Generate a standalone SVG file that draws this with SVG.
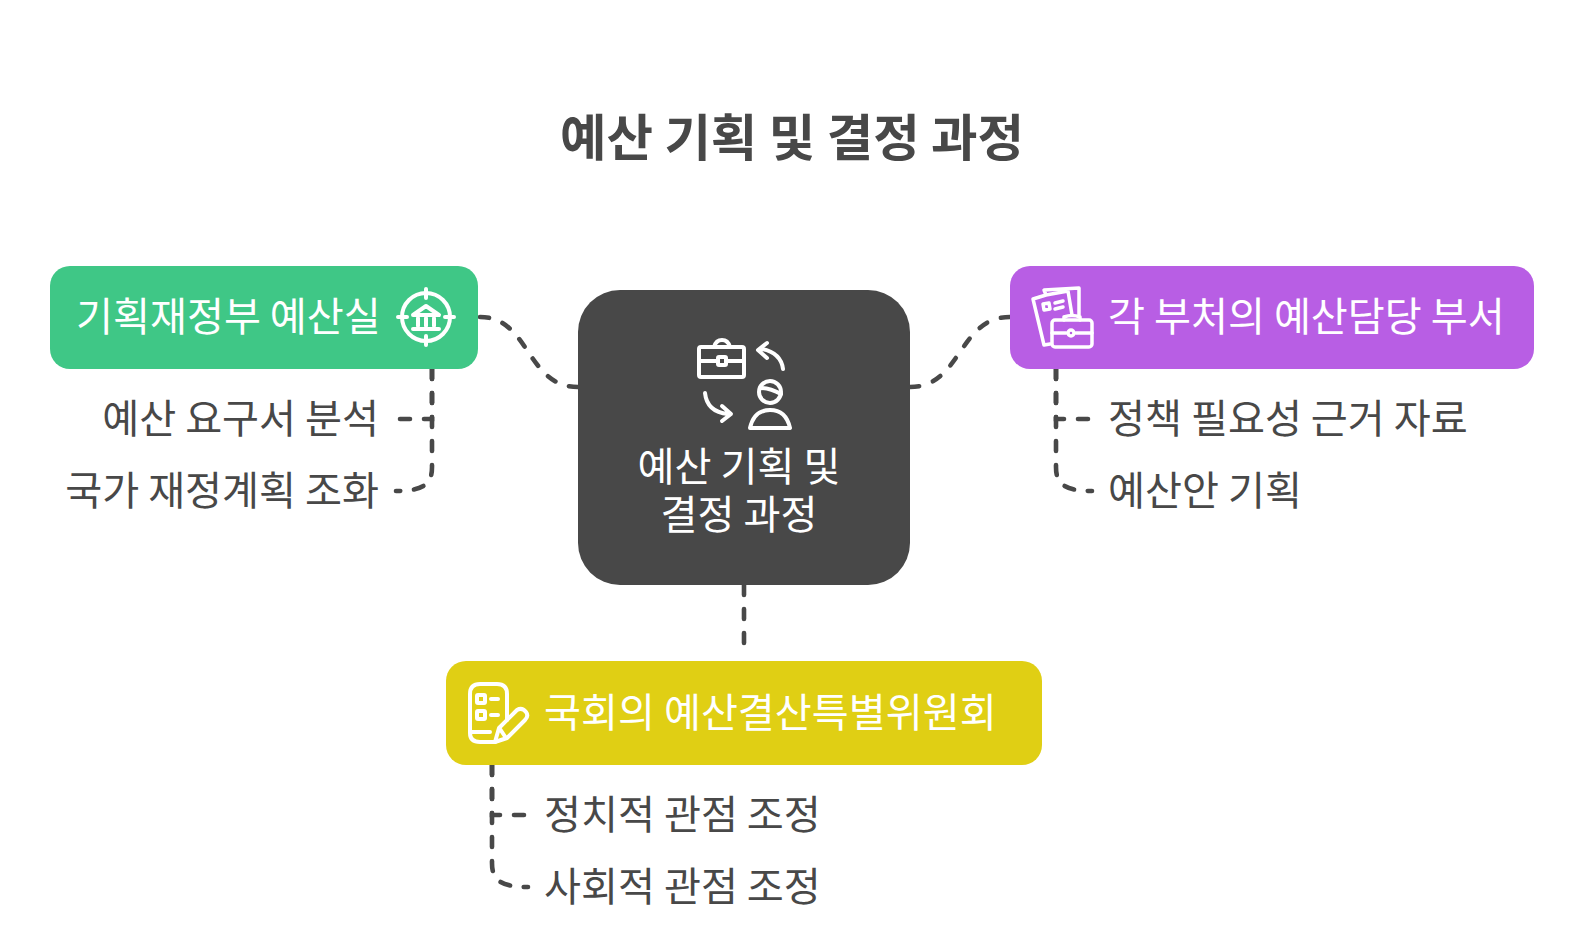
<svg xmlns="http://www.w3.org/2000/svg" width="1584" height="941" viewBox="0 0 1584 941">
<style>
text{font-family:"Noto Sans CJK KR","Noto Sans",sans-serif;font-size:40.2px}
.w{fill:#fff}.d{fill:#484848}
.t{font-size:50.5px;font-weight:700;fill:#484848;text-anchor:middle}
.e{text-anchor:end}.m{text-anchor:middle}
.c{fill:none;stroke:#484848;stroke-width:4.6;stroke-linecap:round;stroke-dasharray:10 14}
.i{fill:none;stroke:#fff;stroke-width:4;stroke-linecap:round;stroke-linejoin:round}
</style>
<rect width="1584" height="941" fill="#fff"/>
<text class="t" x="792" y="156">예산 기획 및 결정 과정</text>
<g id="connectors">
<path class="c" style="stroke-dasharray:10 16" pathLength="140" d="M480 317C530 317 526 387 578 387"/>
<path class="c" style="stroke-dasharray:10 16" pathLength="140" d="M1010 317C958 317 962 387 910 387"/>
<path class="c" d="M744 585V647"/>
<path class="c" d="M432 369V419H398"/>
<path class="c" d="M432 369V467C432 483 425 491 396 491"/>
<path class="c" d="M1056 369V419H1090"/>
<path class="c" d="M1056 369V467C1056 483 1063 491 1092 491"/>
<path class="c" d="M492 765V815H526"/>
<path class="c" d="M492 765V863C492 879 499 887 528 887"/>
</g>
<g id="node-center">
<rect x="578" y="290" width="332" height="295" rx="42" fill="#484848"/>
<g class="i">
<rect x="699" y="347" width="45" height="30" rx="2"/><path d="M699 361H717M727 361H744M714 347Q716 340 722 340Q728 340 730 347"/><rect x="718" y="357" width="8" height="8" rx="1"/>
<path d="M783 369Q781 353 762 349M767 343L758 350L767 358"/><path d="M705 393Q707 412 728 414M722 406L731 414L722 421"/>
<circle cx="770" cy="392" r="11"/><path d="M760 388Q770 388 781 394M750 428Q754 410 770 410Q786 410 790 428Z"/>
</g>
<text class="w m" y="481"><tspan x="739">예산 기획 및</tspan><tspan x="739" dy="48">결정 과정</tspan></text>
</g>
<g id="node-green">
<rect x="50" y="266" width="428" height="103" rx="20" fill="#3fc786"/>
<text class="w" x="76" y="331">기획재정부 예산실</text>
<g class="i">
<circle cx="426" cy="317" r="24"/><path d="M426 289V298M426 336V345M398 317H407M445 317H454"/>
<path d="M413 315L426 306L439 315ZM418 318V326M426 318V326M434 318V326M413 329H439"/>
</g>
</g>
<g id="node-purple">
<rect x="1010" y="266" width="524" height="103" rx="20" fill="#b85ee4"/>
<g class="i" style="stroke-width:3.5">
<path d="M1046 295L1033 299L1044 345L1050 344M1046 295L1044 290L1079 288V315M1046 295L1068 291L1072 315"/>
<path d="M1043 304L1049 303L1050 309L1044 310ZM1055 303L1063 301M1055 309L1063 307"/>
<rect x="1052" y="320" width="40" height="27" rx="3"/><path d="M1052 333H1066M1076 333H1092M1064 320V317Q1072 314 1080 317V320"/><circle cx="1071" cy="333" r="3"/>
</g>
<text class="w" x="1108" y="331">각 부처의 예산담당 부서</text>
</g>
<g id="node-yellow">
<rect x="446" y="661" width="596" height="104" rx="20" fill="#e0cf14"/>
<g class="i">
<path d="M495 742H480Q470 742 470 733V694Q470 684 480 684H497Q507 684 507 694V720M470 732H490"/>
<rect x="477" y="695" width="8" height="8" rx="1"/><rect x="477" y="711" width="8" height="8" rx="1"/><path d="M491 699H498M491 715H498"/>
<path d="M495 742L499 728L517 710Q522 707 526 712Q529 716 525 720L507 738ZM500 729L506 738"/>
</g>
<text class="w" x="544" y="727">국회의 예산결산특별위원회</text>
</g>
<g id="items">
<text class="d e" x="379" y="433">예산 요구서 분석</text>
<text class="d e" x="379" y="505">국가 재정계획 조화</text>
<text class="d" x="1108" y="433">정책 필요성 근거 자료</text>
<text class="d" x="1108" y="505">예산안 기획</text>
<text class="d" x="544" y="829">정치적 관점 조정</text>
<text class="d" x="544" y="901">사회적 관점 조정</text>
</g>
</svg>
